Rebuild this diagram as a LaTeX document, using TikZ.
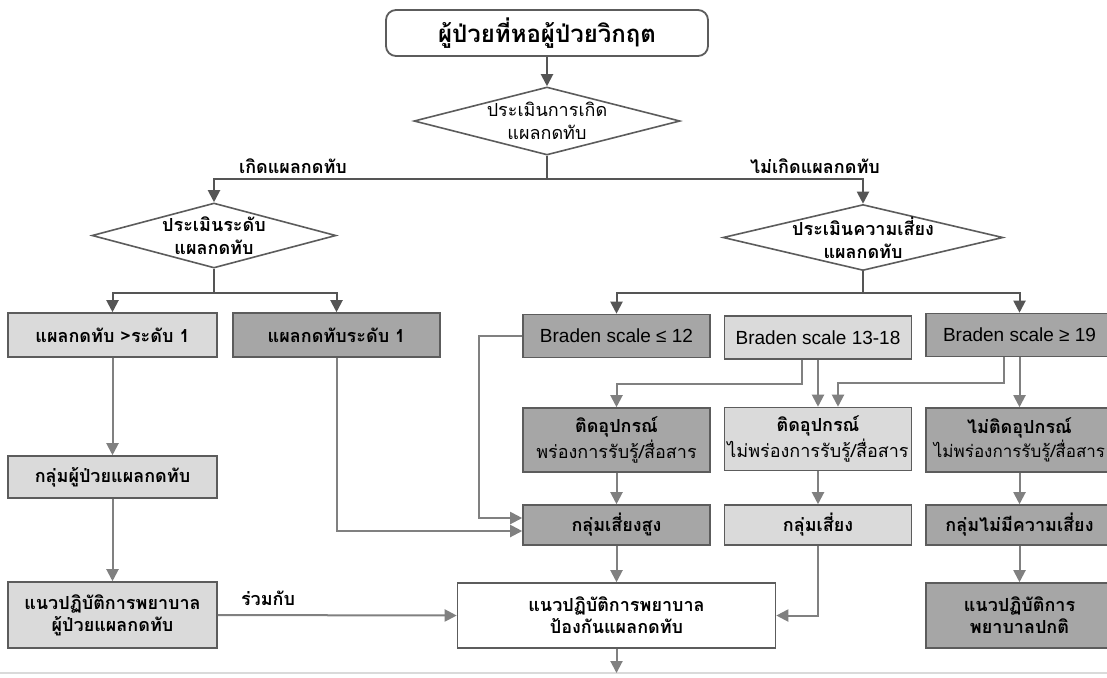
\documentclass[tikz,border=0pt]{standalone}
\usepackage{fontspec}
\setmainfont[Script=Thai]{Loma}
\newfontfamily\brfont{Liberation Sans}
\usetikzlibrary{shapes.geometric,arrows.meta}
\definecolor{boxlight}{RGB}{218,218,218}
\definecolor{boxdark}{RGB}{166,166,166}
\definecolor{edgegray}{RGB}{92,92,92}
\definecolor{linedark}{RGB}{85,85,85}
\definecolor{linelight}{RGB}{128,128,128}
\begin{document}
\begin{tikzpicture}[x=0.5pt,y=-0.5pt,
    startbox/.style={draw=edgegray,line width=0.9pt,rounded corners=5pt,fill=white,
      minimum width=161pt,minimum height=23pt,font=\bfseries\fontsize{12}{14}\selectfont},
    box/.style={draw=edgegray,line width=0.8pt,minimum width=93.5pt,minimum height=21.5pt,
      inner sep=1pt,align=center,font=\bfseries\fontsize{9}{11}\selectfont},
    lightbox/.style={box,fill=boxlight},
    darkbox/.style={box,fill=boxdark},
    braden/.style={font=\brfont\fontsize{9.5}{11}\selectfont},
    decide/.style={diamond,draw=edgegray,line width=0.8pt,fill=white,inner sep=0pt},
    dtext/.style={align=center,font=\fontsize{9}{11.5}\selectfont},
    branch/.style={font=\bfseries\fontsize{9}{11}\selectfont},
    flow/.style={draw=linedark,line width=1pt,-{Triangle[length=6pt,width=6pt]}},
    flowlight/.style={draw=linelight,line width=1pt,-{Triangle[length=6pt,width=6pt]}}]
    \useasboundingbox (0,0) rectangle (1107,677);
    \clip (0,0) rectangle (1107,677);
    \fill[white] (0,0) rectangle (1107,677);
    \draw[boxlight,line width=0.6pt] (0,673) -- (1107,673);

    \node[startbox] (top) at (547,33) {ผู้ป่วยที่หอผู้ป่วยวิกฤต};
    \node[decide,minimum width=133pt,minimum height=34pt,
      label={[dtext]center:ประเมินการเกิด\\แผลกดทับ}] (d1) at (547,121) {};
    \node[decide,minimum width=122pt,minimum height=32.5pt,
      label={[dtext,font=\bfseries\fontsize{9}{11.5}\selectfont]center:ประเมินระดับ\\แผลกดทับ}] (d2) at (214,235.5) {};
    \node[decide,minimum width=140pt,minimum height=33pt,
      label={[dtext,font=\bfseries\fontsize{9}{11.5}\selectfont]center:ประเมินความเสี่ยง\\แผลกดทับ}] (d3) at (863,237.5) {};
    \node[branch] (yes) at (293,166) {เกิดแผลกดทับ};
    \node[branch] (no) at (815,166) {ไม่เกิดแผลกดทับ};

    \node[lightbox,minimum width=104.5pt,minimum height=22pt] (sore) at (112.5,335) {แผลกดทับ >ระดับ 1};
    \node[darkbox,minimum width=103.5pt,minimum height=22pt] (stage) at (336.5,335) {แผลกดทับระดับ 1};
    \node[darkbox,braden] (high) at (616.5,336) {Braden scale ≤ 12};
    \node[lightbox,braden] (mid) at (818,337.5) {Braden scale 13-18};
    \node[darkbox,braden] (low) at (1019.5,335) {Braden scale ≥ 19};

    \node[darkbox,minimum height=32pt] (devA) at (616.5,440) {ติดอุปกรณ์\\\mdseries พร่องการรับรู้/สื่อสาร};
    \node[lightbox,minimum height=31.5pt] (devB) at (818,439) {ติดอุปกรณ์\\\mdseries ไม่พร่องการรับรู้/สื่อสาร};
    \node[darkbox,minimum height=32pt] (devC) at (1019.5,440) {ไม่ติดอุปกรณ์\\\mdseries\fontsize{8.5}{11}\selectfont ไม่พร่องการรับรู้/สื่อสาร};

    \node[darkbox,minimum height=20pt] (riskhi) at (616.5,525) {กลุ่มเสี่ยงสูง};
    \node[lightbox,minimum height=20pt] (risk) at (818,525) {กลุ่มเสี่ยง};
    \node[darkbox,minimum height=20pt] (norisk) at (1019.5,525) {กลุ่มไม่มีความเสี่ยง};

    \node[lightbox,minimum width=104.5pt,minimum height=21pt] (group) at (112.5,477) {กลุ่มผู้ป่วยแผลกดทับ};
    \node[lightbox,minimum width=104.5pt,minimum height=33pt] (care) at (112.5,615) {แนวปฏิบัติการพยาบาล\\ผู้ป่วยแผลกดทับ};
    \node[box,fill=white,minimum width=159pt,minimum height=32.5pt] (prevent) at (616.5,615.5) {แนวปฏิบัติการพยาบาล\\ป้องกันแผลกดทับ};
    \node[darkbox,minimum height=32.5pt] (usual) at (1019.5,615.5) {แนวปฏิบัติการ\\พยาบาลปกติ};
    \node[branch] (with) at (268,598) {ร่วมกับ};
    \coordinate (out) at (616.5,673);

    \draw[flow] (top) -- (d1);
    \draw[flow] (d1.south) -- ++(0,23) -| (d2.north);
    \draw[flow] (d1.south) -- ++(0,23) -| (d3.north);
    \draw[flow] (d2.south) -- ++(0,24) -| (sore.north);
    \draw[flow] (d2.south) -- ++(0,24) -| (stage.north);
    \draw[flow] (d3.south) -- ++(0,22) -| (high.north);
    \draw[flow] (d3.south) -- ++(0,22) -| (low.north);

    \draw[flowlight] (sore) -- (group);
    \draw[flowlight] (group) -- (care);
    \draw[flowlight] (care.east) -- (prevent.west);
    \draw[flowlight] (stage.south) |- ([yshift=-3pt]riskhi.west);
    \draw[flowlight] (high.west) -- ++(-43,0) |- ([yshift=3.5pt]riskhi.west);
    \draw[flowlight] ([xshift=-8pt]mid.south) -- ++(0,24) -| (devA.north);
    \draw[flowlight] (mid.south) -- (devB.north);
    \draw[flowlight] ([xshift=-8pt]low.south) -- ++(0,26) -| ([xshift=10pt]devB.north);
    \draw[flowlight] (low.south) -- (devC.north);
    \draw[flowlight] (devA) -- (riskhi);
    \draw[flowlight] (devB) -- (risk);
    \draw[flowlight] (devC) -- (norisk);
    \draw[flowlight] (norisk) -- (usual);
    \draw[flowlight] (riskhi) -- (prevent);
    \draw[flowlight] (risk.south) |- (prevent.east);
    \draw[flowlight] (prevent.south) -- (out);
\end{tikzpicture}
\end{document}
